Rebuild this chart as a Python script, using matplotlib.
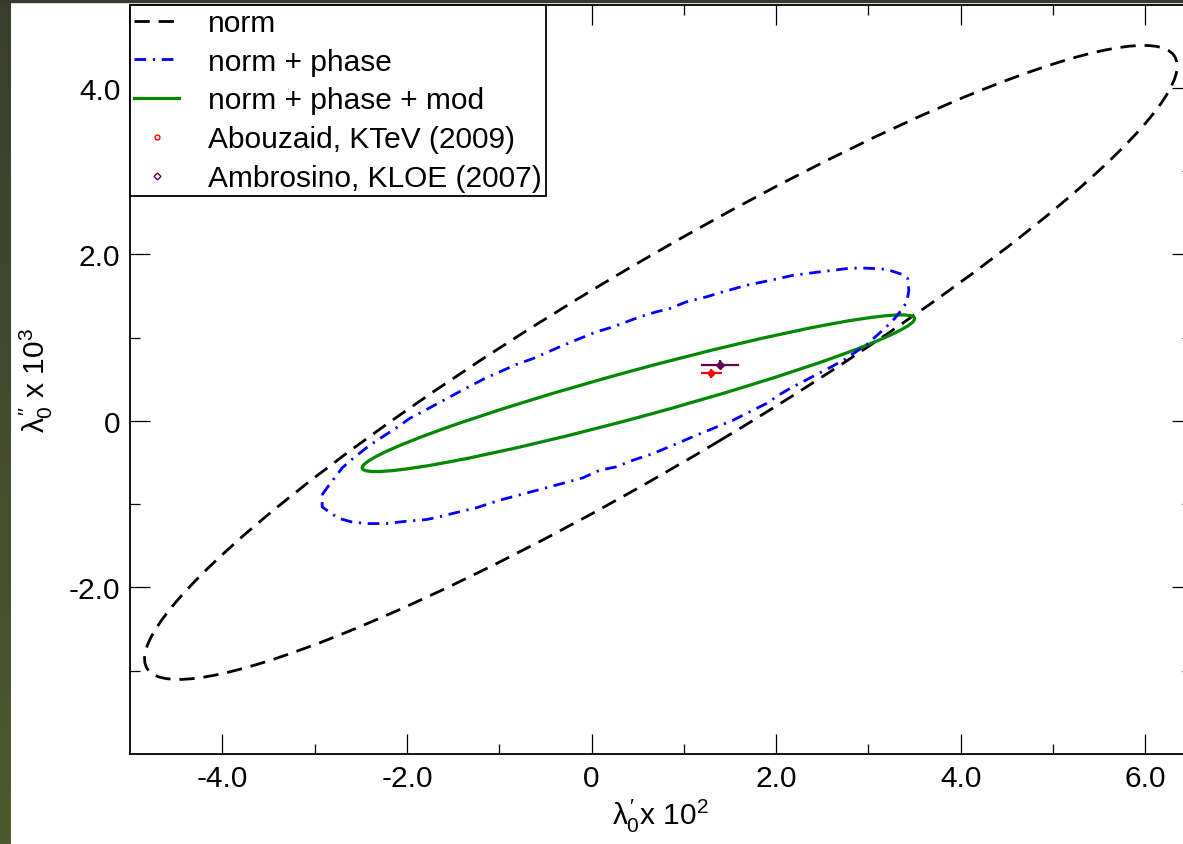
import numpy as np
import matplotlib.pyplot as plt
from matplotlib.patches import Ellipse
from matplotlib.lines import Line2D

plt.rcParams['font.family'] = ['Liberation Sans', 'DejaVu Sans']
plt.rcParams['mathtext.fontset'] = 'custom'
plt.rcParams['mathtext.rm'] = 'Liberation Sans'
plt.rcParams['mathtext.it'] = 'Liberation Sans'

# ellipses (centre, full width, full height, angle in data units)
norm_center = (0.751, 0.702)
norm_width, norm_height, norm_angle = 13.34, 2.27, 33.56
mod_center = (0.508, 0.332)
mod_width, mod_height, mod_angle = 6.249, 0.555, 16.79

# norm + phase contour
phase_x = [-2.918, -2.857, -2.803, -2.701, -2.586, -2.405, -2.099, -1.972, -1.647, -1.408,
           -1.159, -0.997, -0.816, -0.636, -0.347, -0.130, 0.051, 0.231, 0.376, 0.520,
           0.701, 0.845, 1.026, 1.243, 1.423, 1.676, 1.856, 2.048, 2.181, 2.326,
           2.470, 2.614, 2.759, 2.904, 3.085, 3.193, 3.283, 3.373, 3.427, 3.438,
           3.416, 3.355, 3.283, 3.193, 3.102, 2.994, 2.759, 2.597, 2.181, 2.055,
           1.893, 1.712, 1.531, 1.314, 1.134, 0.881, 0.664, 0.447, 0.268, 0.087,
           -0.094, -0.563, -0.997, -1.249, -1.466, -1.647, -1.791, -2.008, -2.224, -2.441,
           -2.603, -2.730, -2.820, -2.918, -2.918]
phase_y = [-0.885, -0.792, -0.713, -0.564, -0.453, -0.293, -0.072, 0.028, 0.220, 0.364,
           0.508, 0.588, 0.676, 0.748, 0.888, 0.988, 1.068, 1.128, 1.188, 1.248,
           1.309, 1.348, 1.429, 1.489, 1.549, 1.628, 1.669, 1.714, 1.748, 1.768,
           1.789, 1.808, 1.828, 1.837, 1.828, 1.820, 1.789, 1.756, 1.708, 1.568,
           1.429, 1.328, 1.228, 1.128, 1.036, 0.928, 0.748, 0.648, 0.408, 0.328,
           0.208, 0.108, 0.007, -0.092, -0.173, -0.293, -0.393, -0.473, -0.552, -0.593,
           -0.684, -0.825, -0.953, -1.044, -1.101, -1.152, -1.185, -1.205, -1.233, -1.233,
           -1.212, -1.173, -1.113, -1.032, -0.885]

# experimental points
ktev_x, ktev_y, ktev_xerr, ktev_yerr = 1.297, 0.571, 0.114, 0.05
kloe_x, kloe_y, kloe_xerr, kloe_yerr = 1.394, 0.676, 0.209, 0.054

xticks = [-4, -2, 0, 2, 4, 6]
xlabels = ['-4.0', '-2.0', '0', '2.0', '4.0', '6.0']
yticks = [-2, 0, 2, 4]
ylabels = ['-2.0', '0', '2.0', '4.0']

dash_norm = (0, (5.5, 3.2))
dash_phase = (0, (4.2, 2.4, 0.8, 2.4))

fig = plt.figure(figsize=(11.83, 8.45), dpi=100)

# dark strips at the left and top edge
bg = fig.add_axes([0, 0, 10 / 1183, 1])
grad = np.linspace(0, 1, 200).reshape(-1, 1, 1)
top_c = np.array([58, 62, 44]) / 255
bot_c = np.array([75, 91, 44]) / 255
bg.imshow(top_c * (1 - grad) + bot_c * grad, aspect='auto', extent=[0, 1, 0, 1])
bg.axis('off')
fig.add_artist(plt.Rectangle((0, 1 - 3 / 845), 1, 3 / 845, color='#373a2c',
                             transform=fig.transFigure))

ax = fig.add_axes([130 / 1183, 90 / 845, 1061.5 / 1183, 749.5 / 845])
ax.set_xlim(-5, 6.5)
ax.set_ylim(-4, 5)

ax.add_patch(Ellipse(norm_center, norm_width, norm_height, angle=norm_angle, fill=False,
                     ec='black', lw=2.0, ls=dash_norm))
ax.plot(phase_x, phase_y, color='#0000ff', lw=2.0, ls=dash_phase)
ax.add_patch(Ellipse(mod_center, mod_width, mod_height, angle=mod_angle, fill=False,
                     ec='#008800', lw=2.3))

ax.errorbar(ktev_x, ktev_y, xerr=ktev_xerr, yerr=ktev_yerr, fmt='o', ms=4,
            color='#ff0000', lw=1.6, capsize=0)
ax.errorbar(kloe_x, kloe_y, xerr=kloe_xerr, yerr=kloe_yerr, fmt='D', ms=4,
            color='#660055', lw=1.6, capsize=0)

ax.set_xticks(xticks)
ax.set_xticklabels(xlabels)
ax.set_yticks(yticks)
ax.set_yticklabels(ylabels)
ax.set_xticks([-3, -1, 1, 3, 5], minor=True)
ax.set_yticks([-3, -1, 1, 3], minor=True)
ax.tick_params(which='both', direction='in', top=True, right=True, labelsize=21.5,
               width=0.9, color='black')
ax.tick_params(which='major', length=14.5, pad=7)
ax.tick_params(which='minor', length=7.2)
for s in ax.spines.values():
    s.set_linewidth(1.3)

ax.set_xlabel(r'$\lambda_0^{\prime}$x 10$^2$', fontsize=21.5, labelpad=4)
ax.set_ylabel(r'$\lambda_0^{\prime\prime}$ x 10$^3$', fontsize=21.5, labelpad=10)

handles = [
    Line2D([], [], color='black', lw=2.0, ls=dash_norm),
    Line2D([], [], color='#0000ff', lw=2.0, ls=dash_phase),
    Line2D([], [], color='#008800', lw=2.3),
    Line2D([], [], color='#ff0000', marker='o', ms=3.5, mfc='none', mew=1, ls='none'),
    Line2D([], [], color='#660055', marker='D', ms=3.5, mfc='none', mew=1, ls='none'),
]
names = ['norm', 'norm + phase', 'norm + phase + mod',
         'Abouzaid, KTeV (2009)', 'Ambrosino, KLOE (2007)']
leg = ax.legend(handles, names, loc='upper left', bbox_to_anchor=(0, 1), borderaxespad=0,
                fontsize=21.5, fancybox=False, framealpha=1, edgecolor='black',
                handlelength=1.5, handletextpad=0.95, labelspacing=0.36, borderpad=0.15)
leg.get_frame().set_linewidth(1.3)

fig.savefig('out.png', dpi=100)
